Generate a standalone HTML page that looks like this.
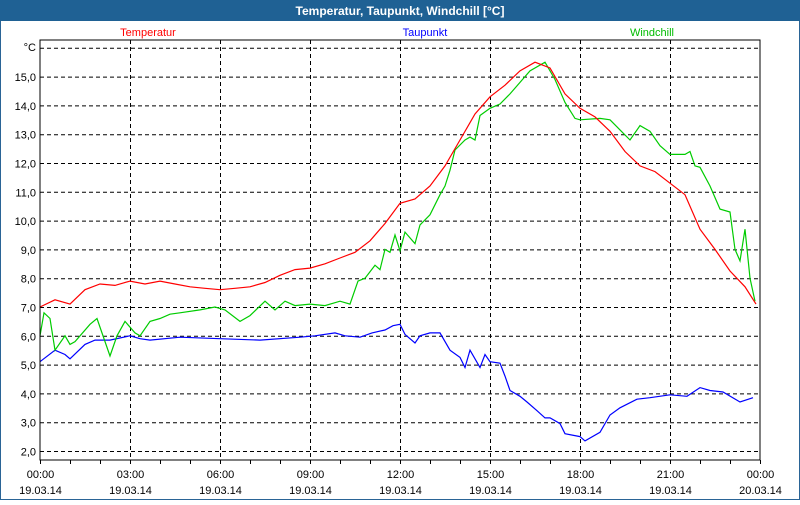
<!DOCTYPE html>
<html><head><meta charset="utf-8"><style>
body{margin:0;width:800px;height:500px;overflow:hidden;background:#fff;font-family:"Liberation Sans",sans-serif}
</style></head><body>
<svg id="chart" width="800" height="500" xmlns="http://www.w3.org/2000/svg" font-family="Liberation Sans, sans-serif">
<rect x="0.5" y="0.5" width="799" height="499" fill="#fff" stroke="#2a6496"/>
<rect x="0" y="0" width="800" height="21" fill="#1f6194"/>
<text x="400" y="15" fill="#fff" font-size="12" font-weight="bold" text-anchor="middle">Temperatur, Taupunkt, Windchill [°C]</text>
<text x="148" y="36" fill="#ff0000" font-size="11" text-anchor="middle">Temperatur</text>
<text x="425" y="36" fill="#0000ff" font-size="11" text-anchor="middle">Taupunkt</text>
<text x="652" y="36" fill="#00bb00" font-size="11" text-anchor="middle">Windchill</text>
<text x="36" y="51" font-size="11" text-anchor="end">°C</text>
<g id="grid"></g><g id="series"></g>
<rect x="40" y="40" width="720" height="420" fill="none" stroke="#000"/>
</svg>
<script>
const yTicks=[2,3,4,5,6,7,8,9,10,11,12,13,14,15,16];
const xTickHours=[0,3,6,9,12,15,18,21,24];
const xTimeLabels=["00:00","03:00","06:00","09:00","12:00","15:00","18:00","21:00","00:00"];
const xDateLabels=["19.03.14","19.03.14","19.03.14","19.03.14","19.03.14","19.03.14","19.03.14","19.03.14","20.03.14"];
const tempX=[40,55,70,85,100,115,130,145,160,175,190,205,220,235,250,265,280,295,310,325,340,355,370,385,400,415,430,445,460,475,490,505,520,535,550,565,580,595,610,625,640,655,670,685,700,715,730,745,756];
const tempValues=[7.0,7.25,7.1,7.6,7.8,7.75,7.9,7.8,7.9,7.8,7.7,7.65,7.6,7.65,7.7,7.85,8.1,8.3,8.35,8.5,8.7,8.9,9.3,9.9,10.6,10.75,11.2,11.9,12.8,13.7,14.3,14.7,15.2,15.5,15.3,14.4,13.9,13.6,13.1,12.4,11.9,11.7,11.3,10.9,9.7,9.0,8.25,7.7,7.1];
const windX=[40,44,50,55,65,70,75,90,97,110,117,125,135,140,150,160,170,180,200,215,225,240,250,265,275,285,295,310,325,340,350,358,365,375,380,385,390,395,400,405,415,420,430,440,445,450,455,465,470,475,480,490,500,510,520,530,545,555,565,575,580,600,610,620,630,640,650,660,670,685,690,695,700,710,720,730,735,740,745,750,755];
const windValues=[6.0,6.8,6.6,5.5,6.0,5.7,5.8,6.4,6.6,5.3,6.0,6.5,6.1,6.0,6.5,6.6,6.75,6.8,6.9,7.0,6.9,6.5,6.7,7.2,6.9,7.2,7.05,7.1,7.05,7.2,7.1,7.9,8.0,8.45,8.3,9.0,8.9,9.5,8.95,9.6,9.2,9.85,10.2,10.9,11.2,11.75,12.45,12.8,12.9,12.8,13.65,13.9,14.05,14.4,14.8,15.2,15.5,14.9,14.1,13.55,13.5,13.55,13.5,13.15,12.8,13.3,13.1,12.6,12.3,12.3,12.4,11.9,11.85,11.2,10.4,10.3,9.0,8.6,9.7,8.0,7.2];
const dewX=[40,55,65,70,85,95,110,130,140,150,180,220,260,300,315,335,345,360,372,385,393,400,405,415,420,430,440,450,460,465,470,480,485,490,500,505,510,520,527,537,545,550,560,565,580,585,600,610,620,637,650,670,687,700,710,723,740,753];
const dewValues=[5.1,5.5,5.35,5.2,5.7,5.85,5.85,6.0,5.9,5.85,5.95,5.9,5.85,5.95,6.0,6.1,6.0,5.95,6.1,6.2,6.35,6.4,6.05,5.75,6.0,6.1,6.1,5.5,5.25,4.9,5.5,4.9,5.35,5.1,5.05,4.6,4.1,3.9,3.7,3.4,3.15,3.15,2.95,2.6,2.5,2.35,2.65,3.25,3.5,3.8,3.85,3.95,3.9,4.2,4.1,4.05,3.7,3.85];
const NS="http://www.w3.org/2000/svg";
const yScale=v=>451-(v-2)*28.8;
const xHour=h=>40+h*30;
function mk(tag,attrs,parent){const e=document.createElementNS(NS,tag);for(const k in attrs)e.setAttribute(k,attrs[k]);parent.appendChild(e);return e;}
const grid=document.getElementById('grid'),svg=document.getElementById('chart');
yTicks.forEach((t)=>{const y=yScale(t)+0.5;
 const l=mk('line',{x1:40,x2:760,y1:y,y2:y,stroke:'#000','stroke-dasharray':'4,3'},grid);
 
 
 if(t<16){const tx=mk('text',{x:36,y:y+4,'font-size':11,'text-anchor':'end'},svg);tx.textContent=t.toFixed(1).replace('.',',');
 
 }
});
for(let h=0;h<=24;h++){const x=xHour(h)+0.5;
 const tk=mk('line',{x1:x,x2:x,y1:460,y2:464,stroke:'#000'},grid);
 
 }
xTickHours.forEach((h,i)=>{const x=xHour(h)+0.5;
 if(h>0&&h<24){const l=mk('line',{x1:x,x2:x,y1:40,y2:460,stroke:'#000','stroke-dasharray':'4,3'},grid);
 
 }
 const t1=mk('text',{x:x,y:478,'font-size':11,'text-anchor':'middle'},svg);t1.textContent=xTimeLabels[i];
 
 
 const t2=mk('text',{x:x,y:494,'font-size':11,'text-anchor':'middle'},svg);t2.textContent=xDateLabels[i];
 
 
});
const ser=document.getElementById('series');
function line(xs,vals,color,name){
 const pts=xs.map((x,i)=>x+','+yScale(vals[i]).toFixed(1)).join(' ');
 const p=mk('polyline',{points:pts,fill:'none',stroke:color,'stroke-width':1.2},ser);
 
 
}
line(dewX,dewValues,'#0000ff','taupunkt-line');
line(windX,windValues,'#00cc00','windchill-line');
line(tempX,tempValues,'#ff0000','temperatur-line');
</script>
</body></html>
